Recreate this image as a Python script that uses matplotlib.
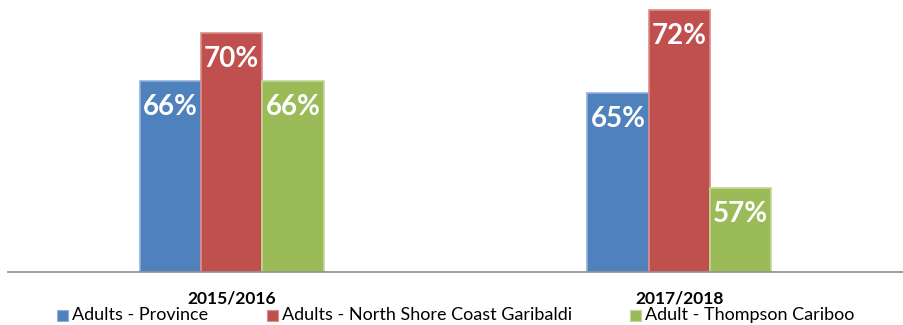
import matplotlib
matplotlib.use("Agg")
import matplotlib.pyplot as plt
import numpy as np
from matplotlib.patches import Rectangle

# ---------------------------------------------------------------------------
# Data
# ---------------------------------------------------------------------------
periods = ["2015/2016", "2017/2018"]
series_names = [
    "Adults - Province",
    "Adults - North Shore Coast Garibaldi",
    "Adult - Thompson Cariboo",
]
province = [66, 65]
north_shore = [70, 72]
thompson = [66, 57]

colors = ["#4F81BD", "#C0504D", "#9BBB59"]
edges = ["#8FB0DA", "#DA8E8C", "#C2D89A"]

_W, _H, _DPI = 904, 325, 100
_BAR_W = 0.137

plt.rcParams["font.family"] = ["Lato", "DejaVu Sans"]

fig = plt.figure(figsize=(_W / _DPI, _H / _DPI), dpi=_DPI)
ax = fig.add_axes([8 / _W, (_H - 272) / _H, 895 / _W, 272 / _H])

x = np.arange(len(periods))
all_series = [province, north_shore, thompson]
for i, (vals, c, ec) in enumerate(zip(all_series, colors, edges)):
    pos = x + (i - 1) * _BAR_W
    bars = ax.bar(pos, np.array(vals) - 50, bottom=50, width=_BAR_W,
                  color=c, edgecolor=ec, linewidth=1.2, zorder=2)
    for b, v in zip(bars, vals):
        ax.annotate(f"{v}%", (b.get_x() + b.get_width() / 2, v),
                    xytext=(0, -26), textcoords="offset pixels",
                    ha="center", va="center", color="white",
                    fontsize=20, fontweight="bold", zorder=3)

ax.set_xlim(-0.5, 1.5)
ax.set_ylim(50, 72.8)
ax.set_yticks([])
ax.set_xticks(x)
ax.set_xticklabels(periods, fontsize=12.5, fontweight="bold")
ax.tick_params(axis="x", length=0, pad=13.5)
for side in ("top", "left", "right"):
    ax.spines[side].set_visible(False)
ax.spines["bottom"].set_color("#8C8C8C")
ax.spines["bottom"].set_linewidth(1.2)

# legend row drawn along the bottom edge
legend_x = [57, 267, 630]
legend_y = 315
for name, c, ec, lx in zip(series_names, colors, edges, legend_x):
    fig.patches.append(Rectangle((lx / _W, (_H - legend_y - 5.5) / _H),
                                 11 / _W, 11 / _H, transform=fig.transFigure,
                                 facecolor=c, edgecolor=ec, linewidth=0.8))
    fig.text((lx + 15) / _W, (_H - legend_y) / _H, name, fontsize=13,
             va="center", ha="left", color="#000000")

fig.savefig("out.png", dpi=_DPI)
